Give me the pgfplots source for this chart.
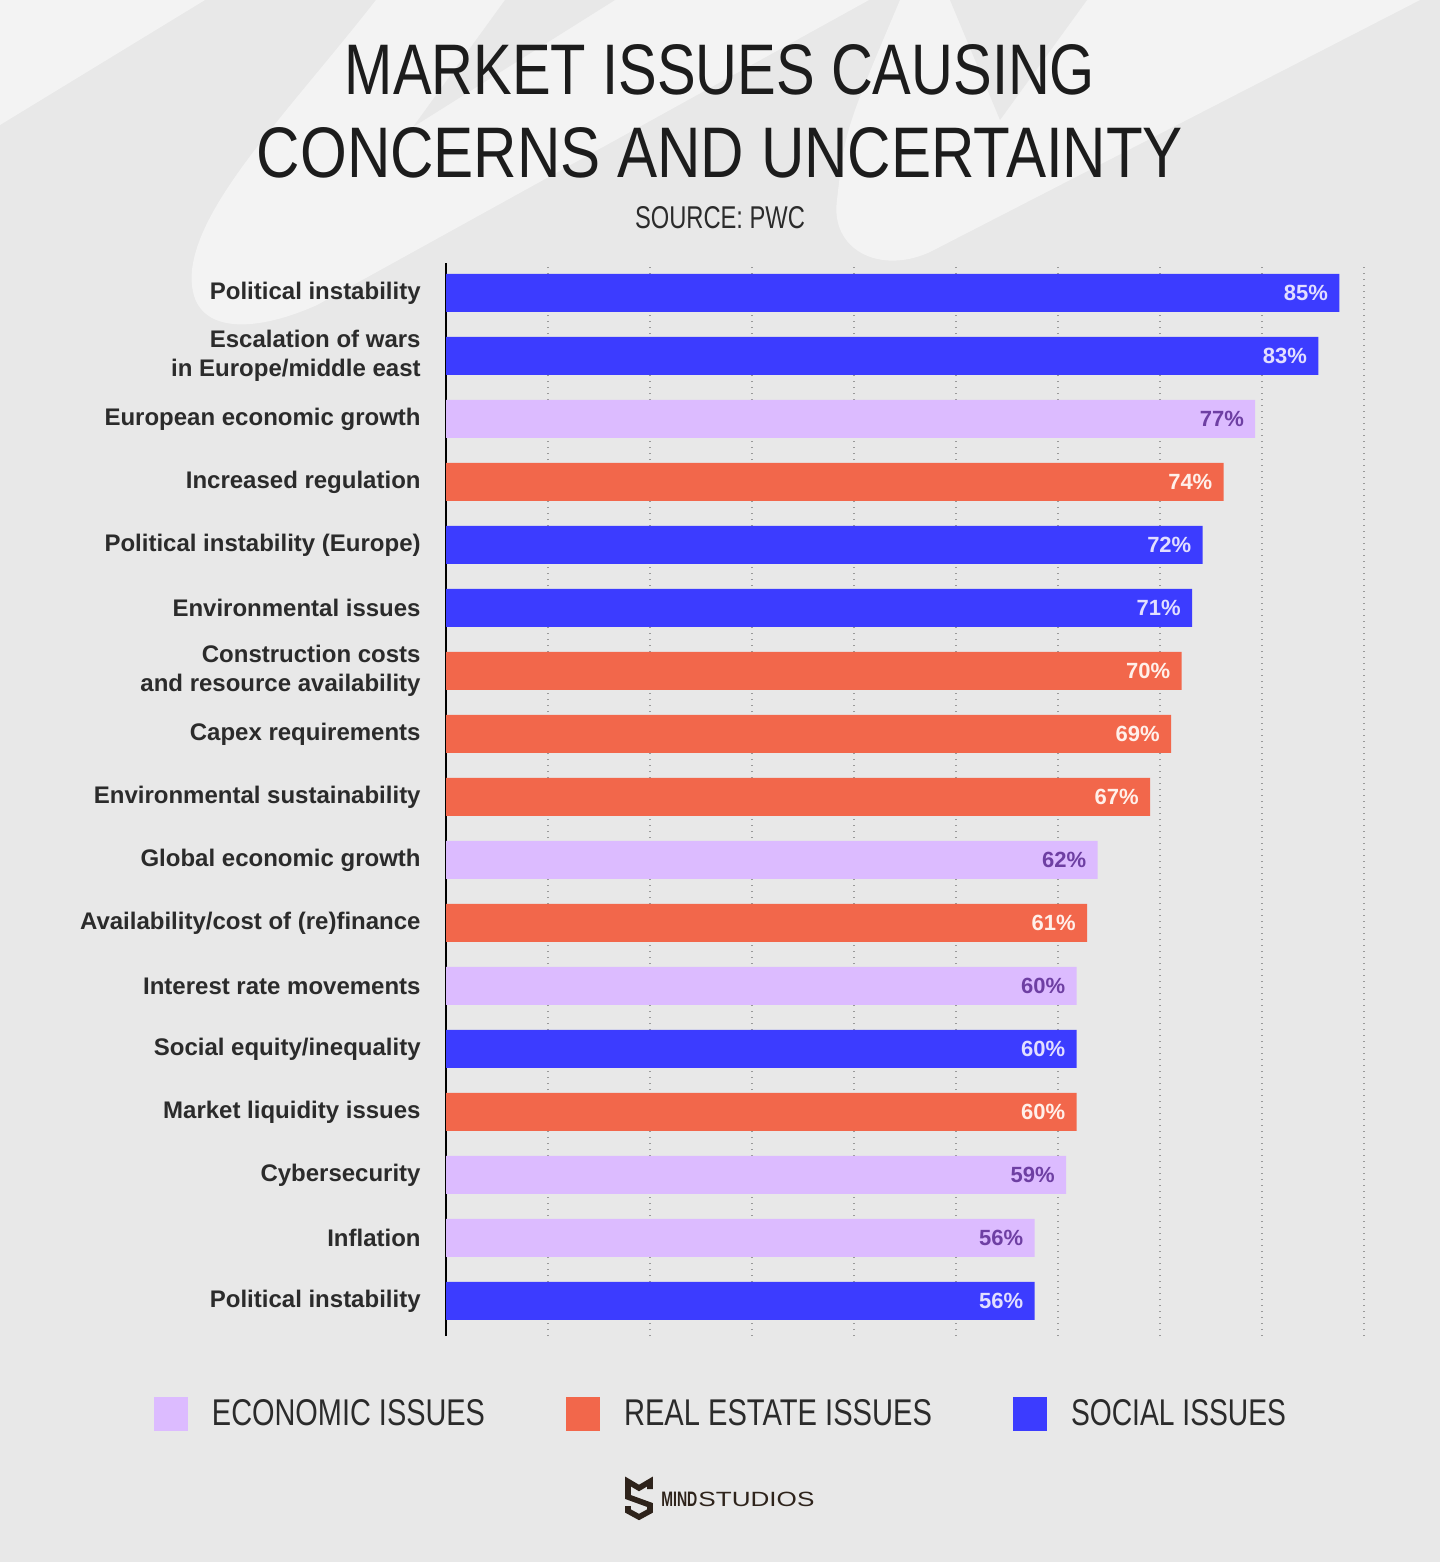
\documentclass[border=0pt]{standalone}
\usepackage{pgfplots}
\pgfplotsset{compat=1.18}
\usepackage{fontspec}
\setmainfont{Liberation Sans}
\usepackage{graphicx}

\definecolor{bg}{HTML}{E8E8E8}
\definecolor{bglight}{HTML}{F3F3F3}
\definecolor{soc}{HTML}{3C3CFF}
\definecolor{eco}{HTML}{DCBBFF}
\definecolor{rea}{HTML}{F2674B}
\definecolor{socv}{HTML}{E2DEFF}
\definecolor{ecov}{HTML}{6E3FA3}
\definecolor{reav}{HTML}{FFF0EA}
\definecolor{txt}{HTML}{2B2B2B}
\definecolor{ttl}{HTML}{1C1C1C}
\definecolor{logo}{HTML}{2E231B}
\definecolor{gridc}{HTML}{9A9A9A}

\begin{document}
\begin{tikzpicture}
\useasboundingbox (0pt,0pt) rectangle (720pt,-781pt);
\begin{scope}[x=0.5pt,y=-0.5pt]
  \fill[bg] (0,0) rectangle (1440,1562);
  % decorative swooshes
  \fill[bglight] (0,0) -- (205,0) -- (0,125) -- cycle;
  \fill[bglight] (376,0) .. controls (290,110) and (200,200) .. (192,270)
     .. controls (186,335) and (250,335) .. (317,305) -- (869,0) -- cycle;
  \fill[bg] (505,0) -- (413,127) -- (615,0) -- cycle;
  \fill[bglight] (900,0) -- (1420,0) -- (930,252)
     .. controls (880,275) and (830,250) .. (837,200)
     .. controls (845,130) .. (900,0) -- cycle;
  \fill[bg] (950,0) -- (1000,120) -- (1087,0) -- cycle;
\end{scope}

\begin{axis}[
  at={(223pt,-668pt)}, anchor=south west,
  scale only axis, width=459pt, height=536.5pt,
  xmin=0, xmax=87.35, ymin=-0.556, ymax=16.476,
  clip=false,
  xbar, bar width=19pt, bar shift=0pt,
  separate axis lines,
  axis x line*=bottom, x axis line style={draw=none},
  axis y line*=left, y axis line style={black, line width=1pt, -},
  xtick={9.7056,19.4111,29.1167,38.8222,48.5278,58.2333,67.9389,77.6444,87.35},
  xticklabels={},
  xmajorgrids,
  grid style={gridc, line width=0.9pt, dash pattern=on 0.7pt off 2.3pt},
  ytick={0,...,16},
  yticklabels={{Political instability},{Inflation},{Cybersecurity},{Market liquidity issues},{Social equity/inequality},{Interest rate movements},{Availability/cost of (re)finance},{Global economic growth},{Environmental sustainability},{Capex requirements},{Construction costs\\and resource availability},{Environmental issues},{Political instability (Europe)},{Increased regulation},{European economic growth},{Escalation of wars\\in Europe/middle east},{Political instability}},
  major tick length=0pt,
  yticklabel style={align=right, anchor=east, inner sep=0pt, xshift=-12.5pt, text=txt,
    font=\fontsize{12}{14.5}\selectfont\bfseries},
  /pgf/number format/assume math mode=true,
  point meta=x,
  nodes near coords={\pgfmathprintnumber{\pgfplotspointmeta}\%},
  every node near coord/.append style={anchor=east, xshift=-5.5pt, inner sep=0pt,
    font=\fontsize{11}{13}\selectfont\bfseries},
  legend image code/.code={\fill[#1, draw=none] (0pt,-8.5pt) rectangle (17pt,8.5pt);},
  legend style={at={(-0.31808,-0.07269)}, anchor=west, draw=none, fill=none,
    inner sep=0pt, outer sep=0pt, legend columns=3, column sep=0pt,
    nodes={inner sep=0pt, outer sep=0pt, text=txt},
    /tikz/every odd column/.append style={column sep=12pt},
    /tikz/every even column/.append style={column sep=40.5pt}},
]
\addplot[fill=eco, draw=none, every node near coord/.append style={text=ecov}]
  coordinates {(77,14) (62,7) (60,5) (59,2) (56,1)};
\addlegendentry{\resizebox{136.5pt}{13pt}{ECONOMIC ISSUES}}
\addplot[fill=rea, draw=none, every node near coord/.append style={text=reav}]
  coordinates {(74,13) (70,10) (69,9) (67,8) (61,6) (60,3)};
\addlegendentry{\resizebox{154pt}{13pt}{REAL ESTATE ISSUES}}
\addplot[fill=soc, draw=none, every node near coord/.append style={text=socv}]
  coordinates {(85,16) (83,15) (72,12) (71,11) (60,4) (56,0)};
\addlegendentry{\resizebox{107.5pt}{13pt}{SOCIAL ISSUES}}
\end{axis}

\begin{scope}[x=0.5pt,y=-0.5pt]
  \node[inner sep=0pt, text=ttl] at (720,70) {\resizebox{375pt}{25pt}{MARKET ISSUES CAUSING}};
  \node[inner sep=0pt, text=ttl] at (720,153) {\resizebox{463pt}{25pt}{CONCERNS AND UNCERTAINTY}};
  \node[inner sep=0pt, text=txt] at (720,218) {\resizebox{85pt}{11pt}{SOURCE: PWC}};
  % logo
  \begin{scope}[shift={(625,1479)}]
    \draw[logo, line width=2.8pt, miter limit=10]
      (3,15) -- (3,2.5) -- (14,9) -- (25,2.5) -- (25,10);
    \draw[logo, line width=2.8pt, miter limit=10]
      (3,15) -- (3,18) -- (25,26) -- (25,32) -- (14,38) -- (3,32) -- (3,27);
  \end{scope}
  \node[inner sep=0pt, anchor=base west, text=logo] at (661,1506) {\resizebox{18pt}{7.2pt}{\bfseries MIND}};
  \node[inner sep=0pt, anchor=base west, text=logo] at (698,1506) {\resizebox{58pt}{7.2pt}{STUDIOS}};
\end{scope}
\end{tikzpicture}
\end{document}
